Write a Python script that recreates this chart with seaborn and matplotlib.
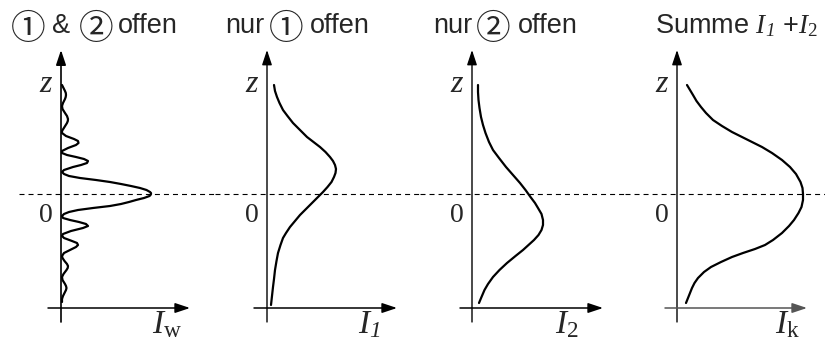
import matplotlib
matplotlib.use("Agg")
import matplotlib.pyplot as plt
import seaborn as sns
import pandas as pd

sns.set_theme(style="white")
plt.rcParams["mathtext.fontset"] = "custom"
plt.rcParams["mathtext.rm"] = "Liberation Serif"
plt.rcParams["mathtext.it"] = "Liberation Serif:italic"
plt.rcParams["mathtext.sf"] = "Liberation Serif:italic"   # italic digits via \mathsf
plt.rcParams["mathtext.bf"] = "Liberation Serif:bold"
plt.rcParams["lines.scale_dashes"] = False

# ---- data (intensity I vs screen position z, arbitrary units; z=0 at dashed line)
z_both = [109, 106, 103, 101, 99, 97, 95, 91, 88, 85, 81, 78, 75, 73, 71, 67, 63, 61, 58, 55,
          53, 51, 49, 46, 43, 41, 39, 37, 35, 33, 31, 29, 27, 24, 22, 20, 18, 16, 14, 12,
          10, 8, 6, 4, 2, 1, 0, -1, -2, -4, -6, -8, -10, -12, -14, -16, -18, -20,
          -22, -24, -26, -28, -30, -32, -34, -37, -40, -42, -44, -47, -49, -51, -53, -56, -59,
          -62, -64, -67, -70, -72, -74, -76, -80, -83, -86, -90, -92, -94, -96, -98, -102, -105, -108]
I_both = [1, 2.5, 4, 4.8, 5, 4.7, 4, 2, 1, 1.5, 4, 6, 7, 6.8, 6, 3.5, 1, 1, 5, 13,
          17, 17.5, 15, 7, 1, 1, 6, 15, 23, 27, 26, 20, 12, 3, 1, 3, 8, 19, 35, 49,
          60, 70, 79, 85.5, 89, 90, 90, 89.5, 88.5, 83, 75, 68, 60, 49, 32, 17, 8, 3,
          1, 2, 9, 18, 25, 27, 22, 10, 2, 1, 3, 11, 16, 17, 15, 9, 3,
          1, 1.5, 3.5, 6, 7, 6.7, 5.5, 2.5, 1, 1.5, 4, 5, 5.5, 5, 4, 2, 1, 1]

z_one = [109, 103, 97, 91, 84, 78, 71, 64, 57, 52, 47, 42, 37, 33, 29, 25, 21, 17, 12, 7,
         2, -3, -8, -14, -21, -27, -33, -39, -44, -51, -59, -67, -76, -85, -93, -102, -111]
I_one = [7, 8, 10, 12.5, 16, 20.5, 26, 33, 40, 46.5, 53, 58.5, 63, 66, 68, 69, 68.5, 67, 64.5, 60.5,
         56, 51, 46, 40, 33, 28, 23, 19, 16, 13.5, 11, 9.5, 8, 7, 6, 5, 4]

z_two = [109, 102, 94, 86, 77, 69, 61, 52, 44, 36, 27, 19, 11, 4, -3, -9, -14, -20, -26, -31,
         -36, -41, -46, -51, -56, -62, -69, -76, -83, -90, -96, -103, -109]
I_two = [6, 6, 6.5, 7.5, 9, 11, 13.5, 17, 21, 27, 34, 41, 48, 53.5, 58.5, 63, 66, 69.5, 71, 71,
         69.5, 66.5, 62, 56.5, 51, 43.5, 35, 27.5, 21, 16, 12.5, 9.5, 7]

z_sum = [109, 104, 99, 93, 87, 81, 74, 68, 62, 57, 52, 47, 41, 34, 27, 20, 12, 6, 0, -6,
         -13, -19, -26, -32, -39, -46, -51, -55, -59, -63, -68, -73, -78, -84, -89, -94, -99,
         -104, -109]
I_sum = [10, 13, 16, 19.5, 24, 29, 36, 45, 55, 65, 75, 85, 95, 105, 113, 119, 123.5, 125.5, 126, 126,
         124.5, 121.5, 117, 112, 105, 96, 88, 78, 66, 55, 44, 34, 27, 21, 17.5, 15, 13,
         11, 9]

xlabels = [r"$I_{\mathrm{w}}$", r"$I_{\mathsf{1}}$", r"$I_2$", r"$I_{\mathrm{k}}$"]

# ---- layout (pixels)
W, H = 825, 349
fig = plt.figure(figsize=(W / 100, H / 100), dpi=100)
panels = [(19, 215, 61), (215, 420, 267), (420, 625, 472), (625, 825, 677)]
y_top, y_bot, y_zero = 40, 345, 194
label_dx = [91, 91, 83, 98]
haxis = [(-13, 129), (-13, 130), (-12, 131), (-12, 130)]
haxis_color = ["black", "black", "black", "#555555"]
vlw = [1.2, 1.0, 1.0, 1.0]

curves = [(I_both, z_both), (I_one, z_one), (I_two, z_two), (I_sum, z_sum)]

for k, ((left, right, ax0), (I, z)) in enumerate(zip(panels, curves)):
    ax = fig.add_axes([left / W, 1 - y_bot / H, (right - left) / W, (y_bot - y_top) / H])
    ax.set_xlim(left - ax0, right - ax0)
    ax.set_ylim(y_zero - y_bot, y_zero - y_top)
    ax.axis("off")

    df = pd.DataFrame({"I": I, "z": z})
    sns.lineplot(data=df, x="I", y="z", sort=False, estimator=None, ax=ax,
                 color="black", lw=1.6)

    ax.axhline(0, color="black", lw=0.8, ls=(0, (3.6, 2.9)))

    ax.annotate("", xy=(0, y_zero - 50), xytext=(0, y_zero - 322),
                arrowprops=dict(arrowstyle="-|>,head_length=0.9,head_width=0.3",
                                lw=vlw[k], color="black", mutation_scale=10,
                                shrinkA=0, shrinkB=0))
    hz = y_zero - 308
    ax.annotate("", xy=(haxis[k][1], hz), xytext=(haxis[k][0], hz),
                arrowprops=dict(arrowstyle="-|>,head_length=0.9,head_width=0.3",
                                lw=1.1, color=haxis_color[k], mutation_scale=10,
                                shrinkA=0, shrinkB=0))

    ax.text(-15, 110, r"$z$", ha="center", va="center", fontsize=23)
    ax.text(-15, -21, "0", ha="center", va="center", fontsize=20,
            family="Liberation Serif")
    ax.text(label_dx[k], y_zero - 333, xlabels[k], ha="left", va="baseline", fontsize=24)

# ---- titles (circled digits drawn larger, as in the reference)
sans = dict(fontsize=19.5, family="Liberation Sans")
circ = dict(fontsize=25, family=["Noto Sans CJK JP", "DejaVu Sans"])
title_pieces = [
    (11, "\u2460", circ), (52, "&", sans), (79, "\u2461", circ), (118, "offen", sans),
    (225, "nur", sans), (269, "\u2460", circ), (310, "offen", sans),
    (433, "nur", sans), (476, "\u2461", circ), (518, "offen", sans),
]
for x, s, p in title_pieces:
    base = 39 if p is circ else 33
    fig.text(x / W, 1 - base / H, s, ha="left", va="baseline", **p)

fig.text(737 / W, 1 - 33 / H, r"Summe $I_{\mathsf{1}}$ +$I_2$", ha="center", va="baseline",
         fontsize=19.5, family="Liberation Sans")

fig.savefig("out.png", dpi=100)
